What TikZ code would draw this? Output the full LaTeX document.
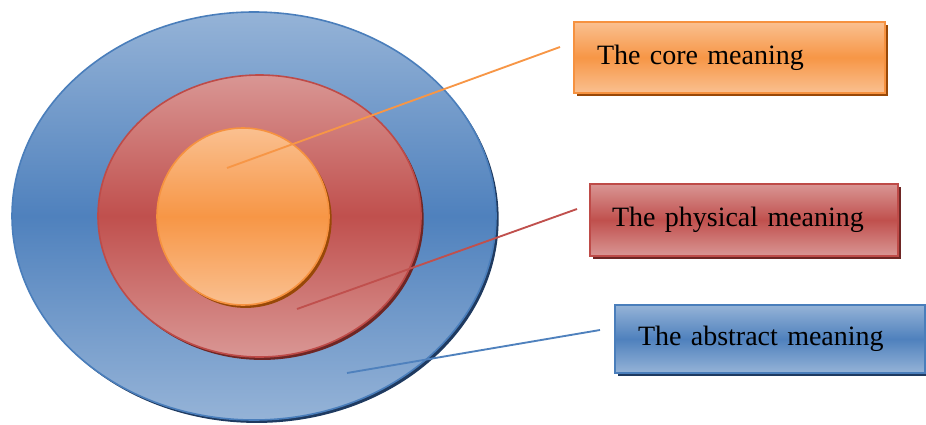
\documentclass[tikz,border=0pt]{standalone}
\usepackage{fontspec}
\setmainfont{Liberation Serif}
\usetikzlibrary{shapes.geometric,shadows}
\definecolor{bluelight}{HTML}{95B3D7}
\definecolor{bluemid}{HTML}{4F81BD}
\definecolor{blueedge}{HTML}{4A7EBB}
\definecolor{blueshadow}{HTML}{1F3A60}
\definecolor{redlight}{HTML}{D99694}
\definecolor{redmid}{HTML}{C0504D}
\definecolor{rededge}{HTML}{BE4B48}
\definecolor{redshadow}{HTML}{6E2624}
\definecolor{orangelight}{HTML}{FAC090}
\definecolor{orangemid}{HTML}{F79646}
\definecolor{orangeedge}{HTML}{F69240}
\definecolor{orangeshadow}{HTML}{984807}
\tikzset{
  ring/.style={ellipse, inner sep=0pt, line width=1.2pt},
  label box/.style={rectangle, line width=1.4pt, align=left, inner ysep=0pt,
    font=\fontsize{21}{25}\selectfont, text=black},
  connector/.style={line width=1.4pt},
  sh/.style={drop shadow={shadow xshift=2pt, shadow yshift=-2.2pt, fill=#1, opacity=1}}
}
\begin{document}
\begin{tikzpicture}[x=0.75pt,y=-0.75pt]
\useasboundingbox (0,0) rectangle (926,425);
% rings
\node[ring, sh=blueshadow, draw=blueedge, top color=bluelight, bottom color=bluelight, middle color=bluemid,
  minimum width=363pt, minimum height=306pt] (outer) at (254,216) {};
\node[ring, sh=redshadow, draw=rededge, top color=redlight, bottom color=redlight, middle color=redmid,
  minimum width=242.25pt, minimum height=211.5pt] (middle) at (259.5,216) {};
\node[ring, sh=orangeshadow, draw=orangeedge, top color=orangelight, bottom color=orangelight, middle color=orangemid,
  minimum width=129pt, minimum height=132.75pt] (core) at (243,216.5) {};
% labels
\node[label box, sh=orangeshadow, draw=orangeedge, top color=orangelight, bottom color=orangelight, middle color=orangemid,
  minimum height=53.25pt, text width=198.75pt, inner xsep=17.25pt] (corebox) at (729.5,57.5) {The core meaning};
\node[label box, sh=redshadow, draw=rededge, top color=redlight, bottom color=redlight, middle color=redmid,
  minimum height=54pt, text width=198pt, inner xsep=16.5pt] (physbox) at (744,220) {The physical meaning};
\node[label box, sh=blueshadow, draw=blueedge, top color=bluelight, bottom color=bluelight, middle color=bluemid,
  minimum height=51pt, text width=198pt, inner xsep=17.25pt] (absbox) at (770,339) {The abstract meaning};
% connector ends
\coordinate (c1) at (227,168);
\coordinate (c1e) at (560,47);
\coordinate (c2) at (297,309);
\coordinate (c2e) at (577,209);
\coordinate (c3) at (347,373);
\coordinate (c3e) at (600,330);
\draw[connector, orangemid] (c1) -- (c1e);
\draw[connector, redmid] (c2) -- (c2e);
\draw[connector, bluemid] (c3) -- (c3e);
\end{tikzpicture}
\end{document}
